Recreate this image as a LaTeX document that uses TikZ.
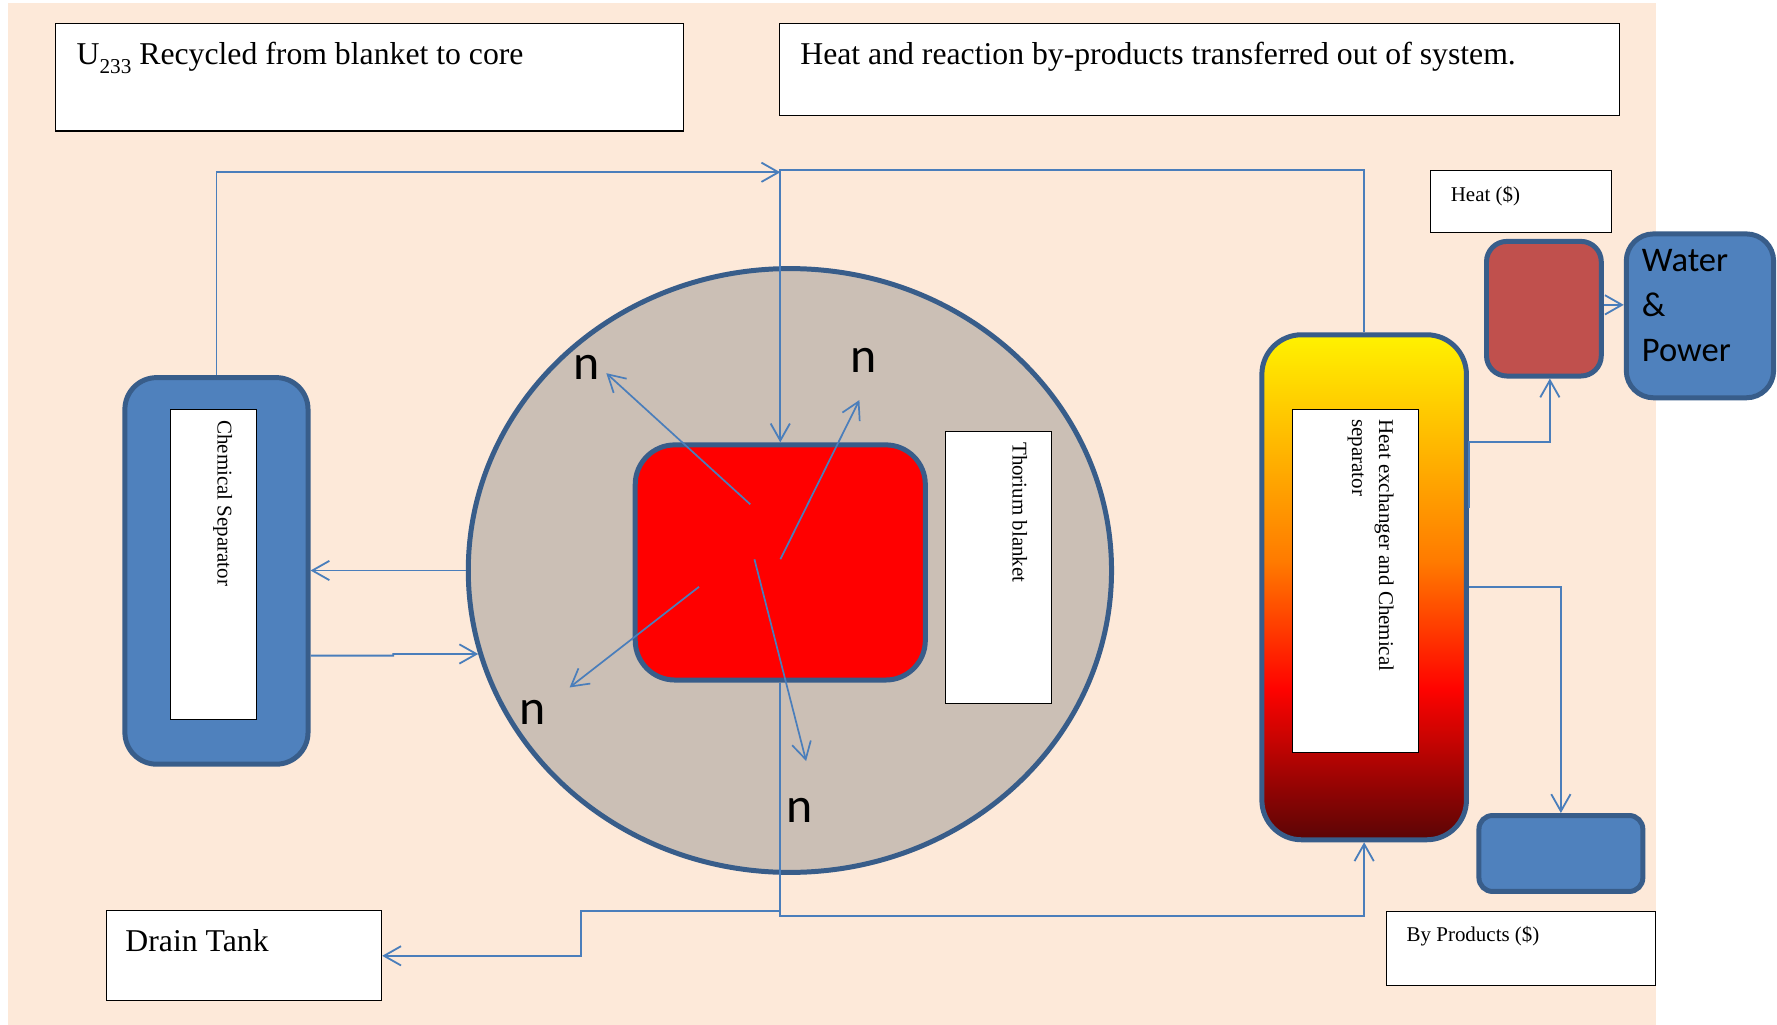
\documentclass[tikz,border=0pt]{standalone}
\usepackage{fontspec}
\setmainfont{Liberation Serif}
\newfontfamily\calibfont{Carlito}
\usetikzlibrary{arrows.meta,shapes.geometric,calc}

\definecolor{peach}{HTML}{FDE9D9}
\definecolor{shapeblue}{HTML}{4F81BD}
\definecolor{edgeblue}{HTML}{385D8A}
\definecolor{linkblue}{HTML}{4A7EBB}
\definecolor{brick}{HTML}{C0504D}
\definecolor{blanketgray}{HTML}{CBBFB5}
\definecolor{fireyellow}{HTML}{FFF200}
\definecolor{fireorange}{HTML}{FF7A00}
\definecolor{firered}{HTML}{FF0300}
\definecolor{firedark}{HTML}{5A0505}

% fire gradient for the heat exchanger (bottom -> top, fitted to 25bp..75bp)
\pgfdeclareverticalshading{fire}{100bp}{color(0bp)=(firedark); color(25bp)=(firedark); color(40bp)=(firered); color(52.5bp)=(fireorange); color(75bp)=(fireyellow); color(100bp)=(fireyellow)}

\tikzset{
  vessel/.style={draw=edgeblue, line width=4.4pt, inner sep=0pt},
  label box/.style={draw=black, line width=0.9pt, fill=white, inner sep=0pt},
  link/.style={draw=linkblue, line width=1.6pt, line join=miter,
    -{Straight Barb[length=15pt,width=17pt,line join=miter]}},
  ray/.style={link, line width=1.5pt},
  bigtxt/.style={font=\fontsize{28}{34}\selectfont, anchor=base west, inner sep=0pt},
  smalltxt/.style={font=\fontsize{18.5}{24}\selectfont, anchor=base west, inner sep=0pt},
  ntxt/.style={font=\calibfont\fontsize{44}{50}\selectfont, anchor=base, inner sep=0pt},
  wptxt/.style={font=\calibfont\fontsize{30.5}{40}\selectfont, anchor=base west, inner sep=0pt},
}

\begin{document}
\begin{tikzpicture}[x=1pt,y=-1pt]
  % canvas
  \fill[white] (0,0) rectangle (1568,904);
  \fill[peach] (7,3) rectangle (1461,904);
  \useasboundingbox (0,0) rectangle (1568,904);

  % caption boxes
  \node[label box, minimum width=554pt, minimum height=95pt] (recycle) at (326.2,68.1) {};
  \node[label box, minimum width=741pt, minimum height=81pt] (export) at (1058.5,61) {};
  \node[label box, minimum width=159.4pt, minimum height=54.4pt] (heatlbl) at (1342.3,177.8) {};
  \node[label box, minimum width=238pt, minimum height=66pt] (bylbl) at (1342,837) {};
  \node[label box, minimum width=243pt, minimum height=79.2pt] (drain) at (215.3,843.4) {};

  \node[bigtxt] (recycletxt) at (67.5,56.5)
    {U\raisebox{-8pt}{\fontsize{18.7}{20}\selectfont 233} Recycled from blanket to core};
  \node[bigtxt] (exporttxt) at (706,56.5)
    {Heat and reaction by-products transferred out of system.};
  \node[smalltxt] (heattxt) at (1280,178) {Heat (\$)};
  \node[smalltxt] (bytxt) at (1241,831) {By Products (\$)};
  \node[bigtxt] (draintxt) at (110.5,840) {Drain Tank};

  % chemical separator
  \node[vessel, fill=shapeblue, rounded corners=28pt,
        minimum width=161.6pt, minimum height=341.1pt] (sep) at (191,503.75) {};
  \node[label box, minimum width=76pt, minimum height=274pt] (sepin) at (188.5,498) {};
  \node[smalltxt, rotate=-90] (septxt) at (192,370.6) {Chemical Separator};

  % blanket and core
  \node[ellipse, draw=edgeblue, line width=4.4pt, fill=blanketgray, inner sep=0pt,
        minimum width=567.6pt, minimum height=532.8pt] (blanket) at (697,503.4) {};
  \node[vessel, fill=red, rounded corners=35pt,
        minimum width=256pt, minimum height=207.5pt] (core) at (688.5,496.3) {};
  \node[label box, minimum width=93.7pt, minimum height=239.7pt] (thlbl) at (881.2,500.9) {};
  \node[smalltxt, rotate=-90] (thtxt) at (893.5,390) {Thorium blanket};

  % heat exchanger
  \node[vessel, shade, shading=fire, rounded corners=35pt,
        minimum width=180.5pt, minimum height=445.6pt] (hx) at (1203.7,518.2) {};
  \node[label box, minimum width=110.8pt, minimum height=302.7pt] (hxin) at (1196.1,512.4) {};
  \node[smalltxt, rotate=-90] (hxtxta) at (1217,369.8) {Heat exchanger and Chemical};
  \node[smalltxt, rotate=-90] (hxtxtb) at (1193,369.8) {separator};

  % outputs
  \node[vessel, fill=brick, rounded corners=18pt,
        minimum width=101.3pt, minimum height=118.8pt] (heatbox) at (1362.3,272.4) {};
  \node[vessel, fill=shapeblue, rounded corners=24pt,
        minimum width=130pt, minimum height=144.6pt] (water) at (1500,278.7) {};
  \node[wptxt] (wpa) at (1448.6,240) {Water};
  \node[wptxt] (wpb) at (1448.6,279.4) {\&};
  \node[wptxt] (wpc) at (1448.6,319) {Power};
  \node[vessel, fill=shapeblue, rounded corners=12pt,
        minimum width=144.6pt, minimum height=67pt] (byprod) at (1377.3,753.1) {};

  % neutrons
  \coordinate (n1s) at (662,445);     \coordinate (n1e) at (535,329.3);
  \coordinate (n2s) at (688.6,493.5); \coordinate (n2e) at (758.3,353);
  \coordinate (n3s) at (616.8,517.8); \coordinate (n3e) at (502.6,606.6);
  \coordinate (n4s) at (665.7,493.5); \coordinate (n4e) at (711.3,671.5);
  \draw[ray] (n1s) -- (n1e);
  \draw[ray] (n2s) -- (n2e);
  \draw[ray] (n3s) -- (n3e);
  \draw[ray] (n4s) -- (n4e);
  \node[ntxt] (nA) at (517.8,335) {n};
  \node[ntxt] (nB) at (762,329) {n};
  \node[ntxt] (nC) at (470,639) {n};
  \node[ntxt] (nD) at (705.7,725.5) {n};

  % salt loops
  \coordinate (rejoin) at (688.5,152);
  \coordinate (topbend) at (688.5,150);
  \coordinate (botbend) at (688.5,808);
  \coordinate (drainsplit) at (688.5,804);
  \coordinate (drainstep) at (512.6,804);
  \coordinate (hxtap) at (1296.5,448);

  \draw[link] (sep.north) |- (rejoin);
  \draw[link] (hx.north) |- (topbend) -- (core.north);
  \draw[link] (core.south) -- (botbend) -| (hx.south);
  \draw[link] (drainsplit) -- (drainstep) |- (drain.east);
  \draw[link] (blanket.west) -- (blanket.west -| sep.east);
  \draw[link] (sep.east |- 0,578.5) -- (347,578.5) -- (347,577) -- (blanket.195);
  \draw[link] (hxtap) -- ++(0,-58) -| ([xshift=5.3pt]heatbox.south);
  \draw[link] (hx.east) -| (byprod.north);
  \draw[link] (heatbox.east |- 0,269) -- (water.west |- 0,269);
\end{tikzpicture}
\end{document}
